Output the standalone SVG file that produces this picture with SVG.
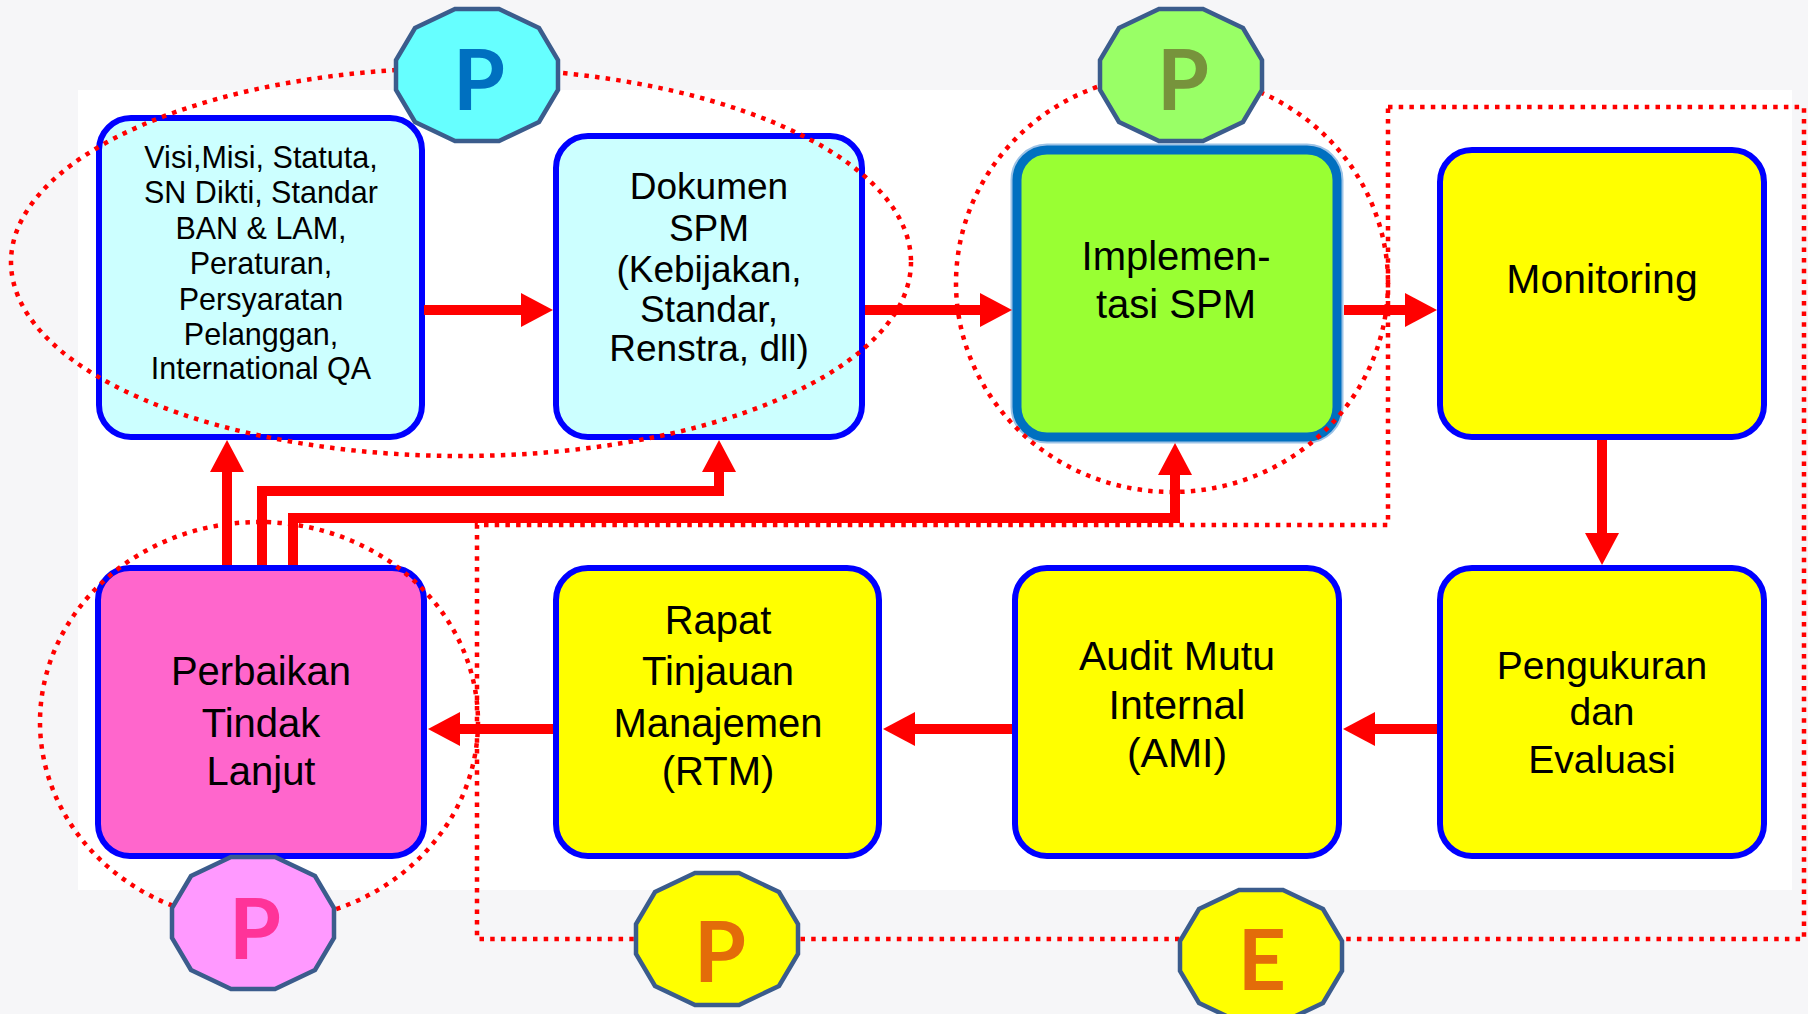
<svg xmlns="http://www.w3.org/2000/svg" width="1808" height="1014" viewBox="0 0 1808 1014">
<style>
.box{stroke:#0000FF;stroke-width:6}
.t{font-family:"Liberation Sans",Arial,sans-serif;fill:#000;text-anchor:middle}
.dot{fill:none;stroke:#FF0000;stroke-width:4.5;stroke-dasharray:4.5 6.2}
.con{fill:none;stroke:#FF0000;stroke-width:10;marker-end:url(#ah)}
.badge{stroke:#3B5C8C;stroke-width:4.5}
.bl{font-family:Lato,"Open Sans","Liberation Sans",sans-serif;font-weight:700;font-size:84px;text-anchor:middle}
</style>
<defs>
<marker id="ah" markerUnits="userSpaceOnUse" viewBox="0 0 32 34" markerWidth="32" markerHeight="34" refX="12" refY="17" orient="auto">
<path d="M0,0 L32,17 L0,34 Z" fill="#FF0000"/>
</marker>
<path id="dodec" d="M-22,-66 L22,-66 L62,-47 L81,-15 L81,15 L62,47 L22,66 L-22,66 L-62,47 L-81,15 L-81,-15 L-62,-47 Z"/>
</defs>
<rect x="0" y="0" width="1808" height="1014" fill="#F6F6F8"/>
<rect x="78" y="90" width="1714" height="800" fill="#FFFFFF"/>

<g id="n-visi">
<rect class="box" x="99" y="118" width="323" height="319" rx="32" fill="#CCFFFF"/>
<text class="t" font-size="30.5" x="261" y="168">Visi,Misi, Statuta,</text>
<text class="t" font-size="30.5" x="261" y="203">SN Dikti, Standar</text>
<text class="t" font-size="30.5" x="261" y="239">BAN &amp; LAM,</text>
<text class="t" font-size="30.5" x="261" y="274">Peraturan,</text>
<text class="t" font-size="30.5" x="261" y="310">Persyaratan</text>
<text class="t" font-size="30.5" x="261" y="345">Pelanggan,</text>
<text class="t" font-size="30.5" x="261" y="379">International QA</text>
</g>
<g id="n-dokumen">
<rect class="box" x="556" y="136" width="306" height="301" rx="32" fill="#CCFFFF"/>
<text class="t" font-size="37" x="709" y="199">Dokumen</text>
<text class="t" font-size="37" x="709" y="241">SPM</text>
<text class="t" font-size="37" x="709" y="282">(Kebijakan,</text>
<text class="t" font-size="37" x="709" y="322">Standar,</text>
<text class="t" font-size="37" x="709" y="361">Renstra, dll)</text>
</g>
<g id="n-implementasi">
<rect x="1017" y="150" width="320" height="287" rx="30" fill="#99FF33" stroke="#9DC3E6" stroke-width="13"/>
<rect x="1017" y="150" width="320" height="287" rx="30" fill="#99FF33" stroke="#0070C0" stroke-width="9"/>
<text class="t" font-size="40" x="1176" y="270">Implemen-</text>
<text class="t" font-size="40" x="1176" y="318">tasi SPM</text>
</g>
<g id="n-monitoring">
<rect class="box" x="1440" y="150" width="324" height="287" rx="32" fill="#FFFF00"/>
<text class="t" font-size="41" x="1602" y="293">Monitoring</text>
</g>
<g id="n-perbaikan">
<rect class="box" x="98" y="568" width="326" height="288" rx="32" fill="#FF66CC"/>
<text class="t" font-size="40" x="261" y="685">Perbaikan</text>
<text class="t" font-size="40" x="261" y="737">Tindak</text>
<text class="t" font-size="40" x="261" y="785">Lanjut</text>
</g>
<g id="n-rtm">
<rect class="box" x="556" y="568" width="323" height="288" rx="32" fill="#FFFF00"/>
<text class="t" font-size="40" x="718" y="634">Rapat</text>
<text class="t" font-size="40" x="718" y="685">Tinjauan</text>
<text class="t" font-size="40" x="718" y="737">Manajemen</text>
<text class="t" font-size="40" x="718" y="785">(RTM)</text>
</g>
<g id="n-ami">
<rect class="box" x="1015" y="568" width="324" height="288" rx="32" fill="#FFFF00"/>
<text class="t" font-size="41" x="1177" y="670">Audit Mutu</text>
<text class="t" font-size="41" x="1177" y="719">Internal</text>
<text class="t" font-size="41" x="1177" y="767">(AMI)</text>
</g>
<g id="n-pengukuran">
<rect class="box" x="1440" y="568" width="324" height="288" rx="32" fill="#FFFF00"/>
<text class="t" font-size="39" x="1602" y="679">Pengukuran</text>
<text class="t" font-size="39" x="1602" y="725">dan</text>
<text class="t" font-size="39" x="1602" y="773">Evaluasi</text>
</g>

<g id="phases">
<ellipse class="dot" cx="461" cy="262" rx="450" ry="194"/>
<ellipse class="dot" cx="1172" cy="283" rx="216" ry="209"/>
<ellipse class="dot" cx="259" cy="722" rx="219" ry="200"/>
<path class="dot" d="M1388,107 H1804 V939 H477 V525 H1388 Z"/>
</g>

<g id="connectors">
<path class="con" d="M424,310 H533"/>
<path class="con" d="M865,310 H992"/>
<path class="con" d="M1344,310 H1417"/>
<path class="con" d="M1602,440 V545"/>
<path class="con" d="M1437,729 H1363"/>
<path class="con" d="M1012,729 H903"/>
<path class="con" d="M553,729 H448"/>
<path class="con" d="M227,565 V460"/>
<path class="con" d="M262,565 V491 H719 V460"/>
<path class="con" d="M293,565 V518 H1175 V463"/>
</g>

<g id="b-plan1">
<use href="#dodec" transform="translate(477,75)" fill="#66FFFF" class="badge"/>
<text class="bl" x="479" y="110" fill="#0070C0">P</text>
</g>
<g id="b-plan2">
<use href="#dodec" transform="translate(1181,75)" fill="#99FF66" class="badge"/>
<text class="bl" x="1183" y="110" fill="#77933C">P</text>
</g>
<g id="b-plan3">
<use href="#dodec" transform="translate(253,923)" fill="#FF99FF" class="badge"/>
<text class="bl" x="255" y="959" fill="#FF3399">P</text>
</g>
<g id="b-plan4">
<use href="#dodec" transform="translate(717,939)" fill="#FFFF00" class="badge"/>
<text class="bl" x="720" y="982" fill="#E36C09">P</text>
</g>
<g id="b-eval">
<use href="#dodec" transform="translate(1261,956)" fill="#FFFF00" class="badge"/>
<text class="bl" x="1262" y="990" fill="#E36C09">E</text>
</g>
</svg>
